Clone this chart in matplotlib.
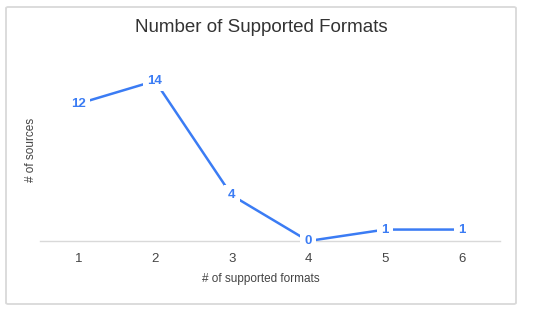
import matplotlib
matplotlib.use("Agg")
import matplotlib.pyplot as plt
from matplotlib.patches import FancyBboxPatch

plt.rcParams['font.family'] = ['Liberation Sans', 'DejaVu Sans']

formats = [1, 2, 3, 4, 5, 6]
sources = [12, 14, 4, 0, 1, 1]
blue = '#3b7cf4'

fig = plt.figure(figsize=(5.5, 3.09), dpi=100)
W, H = 550, 309

# outer frame
frame = FancyBboxPatch((6 / W, 5 / H), 510 / W, 297 / H,
                       boxstyle='round,pad=0,rounding_size=0.004',
                       transform=fig.transFigure, facecolor='none',
                       edgecolor='#d9d9d9', linewidth=1.3, zorder=-1)
fig.patches.append(frame)

ax = fig.add_axes([40 / W, (309 - 241) / H, 460 / W, (241 - 58) / H])
ax.patch.set_alpha(0)
ax.plot(formats, sources, color=blue, linewidth=1.8, zorder=2,
        solid_capstyle='butt')
for x, y in zip(formats, sources):
    ax.text(x, y, str(y), ha='center', va='center', fontsize=9.5,
            fontweight='bold', color=blue, zorder=3,
            bbox=dict(facecolor='white', edgecolor='none', pad=3))

ax.set_xlim(0.5, 6.5)
ax.set_ylim(0, 16)
ax.set_xticks(formats)
ax.set_yticks([])
for s in ['top', 'right', 'left']:
    ax.spines[s].set_visible(False)
ax.spines['bottom'].set_color('#d9d9d9')
ax.spines['bottom'].set_linewidth(1.0)
ax.spines['bottom'].set_zorder(1)
ax.tick_params(axis='x', length=0, pad=9, labelsize=9.5, labelcolor='#444444')

fig.text(261 / W, 1 - 28 / H, 'Number of Supported Formats', ha='center',
         va='center', fontsize=13.5, color='#333333')
fig.text(261 / W, 1 - 279 / H, '# of supported formats', ha='center',
         va='center', fontsize=8.5, color='#444444')
fig.text(31 / W, 1 - 150 / H, '# of sources', ha='center', va='center',
         rotation=90, fontsize=8.5, color='#444444')

fig.savefig('out.png', dpi=100)
